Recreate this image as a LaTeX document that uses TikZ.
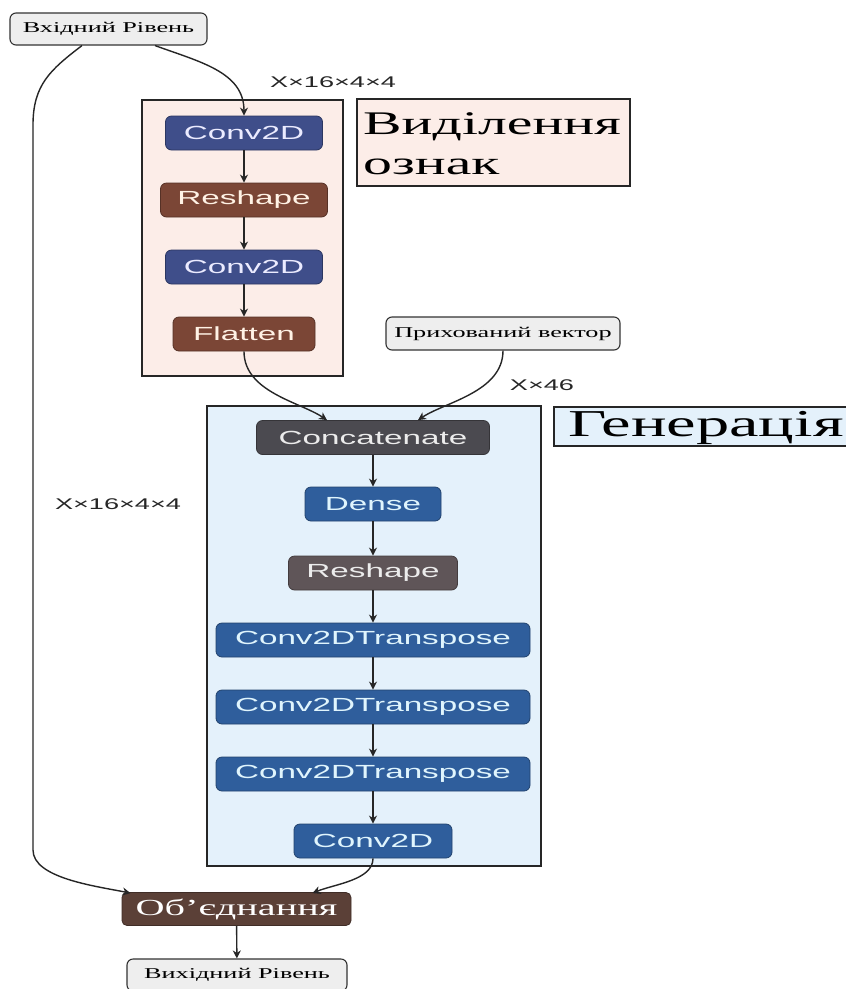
\documentclass[tikz,border=0pt]{standalone}
\usepackage{fontspec}
\usetikzlibrary{arrows.meta}
\newfontfamily\sansw[FakeStretch=1.75]{Liberation Sans}
\newfontfamily\serifw[FakeStretch=1.75]{Liberation Serif}
\definecolor{pinkbg}{HTML}{FCEDE8}
\definecolor{bluebg}{HTML}{E4F1FB}
\definecolor{navy}{HTML}{3F4E8A}
\definecolor{rust}{HTML}{7B4636}
\definecolor{slate}{HTML}{4B4A50}
\definecolor{steel}{HTML}{2F5E9C}
\definecolor{mauve}{HTML}{5F5558}
\definecolor{choc}{HTML}{5B4037}
\definecolor{iobg}{HTML}{EEEEEE}
\tikzset{
  blk/.style={rounded corners=6pt, minimum height=34pt, inner sep=0pt, line width=0.8pt,
    font=\sansw\fontsize{19}{21}\selectfont},
  bnavy/.style={blk, fill=navy, draw=navy!70!black, text=blue!8},
  brust/.style={blk, fill=rust, draw=rust!70!black, text=orange!10},
  bslate/.style={blk, fill=slate, draw=slate!70!black, text=gray!15},
  bsteel/.style={blk, fill=steel, draw=steel!70!black, text=cyan!12},
  bmauve/.style={blk, fill=mauve, draw=mauve!70!black, text=gray!15},
  io/.style={draw=black!80, fill=iobg, rounded corners=6pt, line width=1.1pt, inner sep=0pt,
    font=\serifw\fontsize{15}{17}\selectfont},
  cont/.style={draw=black!85, line width=1.8pt, inner sep=0pt},
  dimlab/.style={font=\sansw\fontsize{15.5}{17}\selectfont, text=black!85, inner sep=0pt},
  arr/.style={-{Stealth[length=8pt,width=8pt,inset=2.5pt]}, line width=1.4pt, draw=black!85},
}
\begin{document}
\begin{tikzpicture}[x=1pt,y=-1pt]
\useasboundingbox (0,0) rectangle (846,989);
\fill[white] (0,0) rectangle (846,989);
% containers
\node[cont, fill=pinkbg, minimum width=201pt, minimum height=276pt] (feat) at (242.5,238) {};
\node[cont, fill=bluebg, minimum width=334pt, minimum height=460pt] (gen) at (374,636) {};
% titles
\node[cont, fill=pinkbg, minimum width=273pt, minimum height=87pt] (ftitle) at (493.5,142.5) {};
\node[anchor=west, inner sep=0pt, align=left, font=\serifw\fontsize{33}{40}\selectfont] (ftext) at (363,144) {Виділення\\ознак};
\draw[cont, fill=bluebg] (554,407) rectangle (850,446);
\node[anchor=west, inner sep=0pt, font=\serifw\fontsize{38}{40}\selectfont] (gtext) at (568,428) {Генерація};
% io
\node[io, minimum width=197pt, minimum height=32pt] (in) at (108.5,29) {Вхідний Рівень};
\node[io, minimum width=234pt, minimum height=33pt] (hid) at (503,333.5) {Прихований вектор};
\node[io, minimum width=220pt, minimum height=32pt] (out) at (237,975) {Вихідний Рівень};
% feature blocks
\node[bnavy, minimum width=157pt] (c1) at (244,133) {Conv2D};
\node[brust, minimum width=167pt] (r1) at (244,200) {Reshape};
\node[bnavy, minimum width=157pt] (c2) at (244,267) {Conv2D};
\node[brust, minimum width=142pt] (fl) at (244,334) {Flatten};
% generation blocks
\node[bslate, minimum width=233pt] (cat) at (373,437.5) {Concatenate};
\node[bsteel, minimum width=136pt] (den) at (373,504) {Dense};
\node[bmauve, minimum width=169pt] (r2) at (373,573) {Reshape};
\node[bsteel, minimum width=314pt] (t1) at (373,640) {Conv2DTranspose};
\node[bsteel, minimum width=314pt] (t2) at (373,707) {Conv2DTranspose};
\node[bsteel, minimum width=314pt] (t3) at (373,774) {Conv2DTranspose};
\node[bsteel, minimum width=158pt] (c3) at (373,841) {Conv2D};
% merge
\node[rounded corners=5pt, fill=choc, draw=choc!70!black, line width=0.8pt, text=white,
  minimum width=229pt, minimum height=33pt, inner sep=0pt,
  font=\serifw\fontsize{23}{25}\selectfont] (mrg) at (236.5,909) {Об’єднання};
% labels
\node[dimlab] (l1) at (333,82) {X×16×4×4};
\node[dimlab] (l2) at (542,385) {X×46};
\node[dimlab] (l3) at (118,504) {X×16×4×4};
% coordinates
\coordinate (inA) at ([xshift=-26.5pt]in.south);
\coordinate (inB) at ([xshift=46.5pt]in.south);
\coordinate (catL) at ([xshift=-46pt]cat.north);
\coordinate (catR) at ([xshift=45pt]cat.north);
\coordinate (mrgL) at ([xshift=-106pt,yshift=-1pt]mrg.north);
\coordinate (mrgR) at ([xshift=76pt,yshift=-1pt]mrg.north);
% connectors
\draw[arr] (inB) .. controls (200,62) and (244,72) .. (c1.north);
\draw[arr] (c1) -- (r1);
\draw[arr] (r1) -- (c2);
\draw[arr] (c2) -- (fl);
\draw[arr] (fl.south) .. controls (244,392) and (300,402) .. (catL);
\draw[arr] (hid.south) .. controls (503,392) and (445,402) .. (catR);
\draw[arr] (cat) -- (den);
\draw[arr] (den) -- (r2);
\draw[arr] (r2) -- (t1);
\draw[arr] (t1) -- (t2);
\draw[arr] (t2) -- (t3);
\draw[arr] (t3) -- (c3);
\draw[arr] (inA) .. controls (50,70) and (33,85) .. (33,125) -- (33,850) .. controls (33,878) and (95,886) .. (mrgL);
\draw[arr] (c3.south) .. controls (373,880) and (335,884) .. (mrgR);
\draw[arr] (mrg) -- (out);
\end{tikzpicture}
\end{document}
